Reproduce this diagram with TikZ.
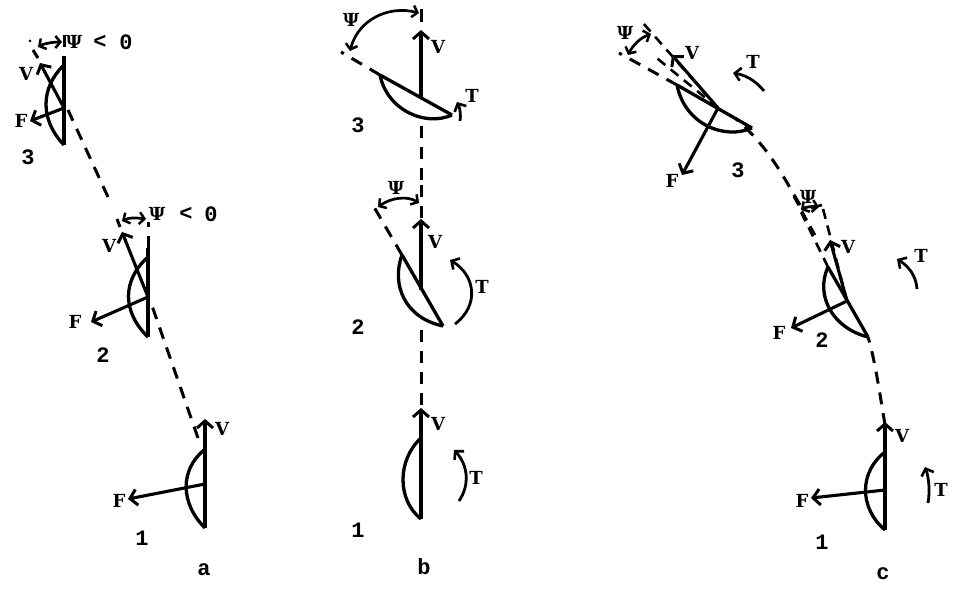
\documentclass[tikz,border=0pt]{standalone}
\usepackage{fontspec}
\setmainfont{DejaVu Serif}
\setmonofont{Liberation Mono}
\newfontfamily\slab{DejaVu Serif}
\usetikzlibrary{arrows.meta}
\tikzset{
  wing/.style={line width=3.3pt,line join=round},
  trail/.style={line width=3pt,dash pattern=on 12pt off 9pt},
  thin trail/.style={line width=2.6pt,dash pattern=on 10pt off 7pt},
  vec/.style={line width=3.1pt,-{Straight Barb[length=7pt,width=16pt,line width=3pt]}},
  turn/.style={line width=2.8pt,-{Straight Barb[length=6pt,width=13pt,line width=2.6pt]}},
  ang/.style={line width=2.7pt,{Straight Barb[length=5pt,width=12pt,line width=2.5pt]}-{Straight Barb[length=5pt,width=12pt,line width=2.5pt]}},
  lab/.style={font=\fontsize{18}{18}\selectfont\slab\bfseries,inner sep=0pt},
  num/.style={font=\fontsize{22}{22}\selectfont\ttfamily\bfseries,inner sep=0pt}
}
\begin{document}
\begin{tikzpicture}[x=1pt,y=-1pt]
\useasboundingbox (0,0) rectangle (960,601);
% ---------- panel a
\coordinate (a1b) at (205,528); \coordinate (a1t) at (205,448); \coordinate (a1m) at (205,484);
\coordinate (a1v) at (205,419); \coordinate (a1f) at (128,499);
\coordinate (a2b) at (148,337); \coordinate (a2t) at (148,248); \coordinate (a2m) at (148,297);
\coordinate (a2v) at (122,232); \coordinate (a2f) at (91,322);
\coordinate (a3b) at (64,145); \coordinate (a3t) at (64,56); \coordinate (a3m) at (64,108);
\coordinate (a3v) at (40,63); \coordinate (a3f) at (30,121);
\draw[wing] (a1b) -- (a1t);
\draw[wing] (a1b) .. controls (180,503) and (180,470) .. (204,450);
\draw[vec] (a1t) -- (a1v);
\draw[vec] (a1m) -- (a1f);
\draw[wing] (a2b) -- (a2t);
\draw[wing] (a2b) .. controls (122,312) and (122,280) .. (148,257);
\draw[vec] (a2m) -- (a2v);
\draw[vec] (a2m) -- (a2f);
\draw[wing] (a3b) -- (a3t);
\draw[wing] (a3b) .. controls (40,120) and (40,88) .. (64,65);
\draw[vec] (a3m) -- (a3v);
\draw[vec] (a3m) -- (a3f);
\coordinate (a2u) at (148,222); \coordinate (a2l) at (120,227); \coordinate (a2k) at (108,197);
\coordinate (a3u) at (64,35); \coordinate (a3l) at (38,58); \coordinate (a3k) at (33,50);
\draw[trail] (198,438) -- (150,300);
\draw[trail] (a2t) -- (a2u);
\draw[line width=3pt] (a2l) -- (117,219);
\draw[trail] (a2k) -- (68,110);
\draw[line width=3pt] (a3l) -- (a3k);
\draw[line width=3pt] (64,35) -- (64,47);
\draw[ang] (122,221) .. controls (130,217) and (138,218) .. (146,219);
\draw[ang] (38,47) .. controls (45,43) and (55,42) .. (62,42);
\fill (30,41) circle (1.5pt);
\node[lab] at (74,42) {Ψ};
\node[num] at (100,42) {<};
\node[num] at (126,42) {0};
\node[lab] at (157,214) {Ψ};
\node[num] at (186,214) {<};
\node[num] at (211,214) {0};
\node[lab] at (222,429) {V};
\node[lab] at (119,501) {F};
\node[num] at (142,538) {1};
\node[lab] at (109,246) {V};
\node[lab] at (75,322) {F};
\node[num] at (103,355) {2};
\node[lab] at (26,74) {V};
\node[lab] at (21,121) {F};
\node[num] at (28,157) {3};
\node[num] at (204,570) {a};
% ---------- panel b
\coordinate (b1b) at (421,519); \coordinate (b1t) at (421,438); \coordinate (b1v) at (421,408);
\draw[wing] (b1b) -- (b1t);
\draw[wing] (b1b) .. controls (397,500) and (397,460) .. (421,438);
\draw[vec] (b1t) -- (b1v);
\coordinate (b2a) at (402,255); \coordinate (b2c) at (443,326); \coordinate (b2m) at (421,290); \coordinate (b2v) at (421,219);
\draw[wing] (b2a) -- (b2c);
\draw[wing] (b2a) .. controls (391,285) and (405,318) .. (b2c);
\draw[vec] (b2m) -- (b2v);
\coordinate (b3a) at (380,75); \coordinate (b3c) at (452,115); \coordinate (b3m) at (421,97); \coordinate (b3v) at (421,30);
\draw[wing] (b3a) -- (b3c);
\draw[wing] (b3a) .. controls (387,110) and (425,127) .. (b3c);
\draw[vec] (b3m) -- (b3v);
\draw[trail] (421,405) -- (421,326);
\draw[trail] (421,218) -- (421,176);
\draw[trail] (421,180) -- (421,118);
\draw[line width=3pt] (421,9) -- (421,22);
\draw[trail] (b2a) -- (374,207);
\draw[trail] (b3a) -- (341,52);
\draw[ang] (419,203) .. controls (408,196) and (392,197) .. (378,207);
\draw[ang] (419,13) .. controls (388,5) and (358,20) .. (350,51);
\draw[turn] (455,324) .. controls (480,305) and (475,275) .. (450,260);
\draw[turn] (459,501) .. controls (470,485) and (468,465) .. (454,450);
\draw[turn] (460,121) .. controls (461,115) and (460,108) .. (457,102);
\node[lab] at (396,188) {Ψ};
\node[lab] at (351,20) {Ψ};
\node[lab] at (438,424) {V};
\node[lab] at (435,242) {V};
\node[lab] at (438,47) {V};
\node[lab] at (476,478) {T};
\node[lab] at (482,287) {T};
\node[lab] at (472,96) {T};
\node[num] at (358,530) {1};
\node[num] at (358,327) {2};
\node[num] at (358,125) {3};
\node[num] at (424,567) {b};
% ---------- panel c
\coordinate (c1b) at (885,530); \coordinate (c1t) at (885,450); \coordinate (c1m) at (885,490);
\coordinate (c1v) at (885,422); \coordinate (c1f) at (811,498);
\draw[wing] (c1b) -- (c1t);
\draw[wing] (c1b) .. controls (859,508) and (859,472) .. (885,452);
\draw[vec] (c1t) -- (c1v);
\draw[vec] (c1m) -- (c1f);
\coordinate (c2a) at (828,267); \coordinate (c2c) at (868,337); \coordinate (c2m) at (847,301);
\coordinate (c2v) at (830,240); \coordinate (c2f) at (791,328);
\draw[wing] (c2a) -- (c2c);
\draw[wing] (c2a) .. controls (815,295) and (832,328) .. (c2c);
\draw[vec] (c2m) -- (c2v);
\draw[vec] (c2m) -- (c2f);
\coordinate (c3a) at (677,85); \coordinate (c3c) at (752,128); \coordinate (c3m) at (718,108);
\coordinate (c3v) at (672,55); \coordinate (c3f) at (682,175);
\draw[wing] (c3a) -- (c3c);
\draw[wing] (c3a) .. controls (685,125) and (725,140) .. (c3c);
\draw[vec] (c3m) -- (c3v);
\draw[vec] (c3m) -- (c3f);
\draw[trail] (885,425) .. controls (880,395) and (875,360) .. (c2c);
\draw[thin trail] (c2a) -- (800,210);
\draw[thin trail] (c2m) -- (822,205);
\draw[thin trail] (815,235) -- (793,195);
\draw[line width=2.6pt] (811,208) -- (822,205);
\draw[trail] (800,205) .. controls (785,180) and (770,148) .. (735,118);
\draw[trail] (c3a) -- (619,53);
\draw[thin trail] (c3m) -- (653,55);
\draw[thin trail] (c3m) -- (643,23);
\draw[ang] (628,55) .. controls (633,45) and (640,38) .. (651,34);
\draw[ang] (801,210) .. controls (806,207) and (812,206) .. (819,207);
\draw[turn] (764,91) .. controls (755,80) and (745,75) .. (733,73);
\draw[turn] (917,289) .. controls (916,275) and (908,266) .. (897,259);
\draw[turn] (928,503) .. controls (930,492) and (929,478) .. (925,467);
\node[lab] at (625,33) {Ψ};
\node[lab] at (808,197) {Ψ};
\node[lab] at (692,53) {V};
\node[lab] at (848,247) {V};
\node[lab] at (902,436) {V};
\node[lab] at (672,181) {F};
\node[lab] at (779,333) {F};
\node[lab] at (802,501) {F};
\node[lab] at (753,62) {T};
\node[lab] at (921,256) {T};
\node[lab] at (941,490) {T};
\node[num] at (738,170) {3};
\node[num] at (822,340) {2};
\node[num] at (822,542) {1};
\node[num] at (883,574) {c};
\end{tikzpicture}
\end{document}
